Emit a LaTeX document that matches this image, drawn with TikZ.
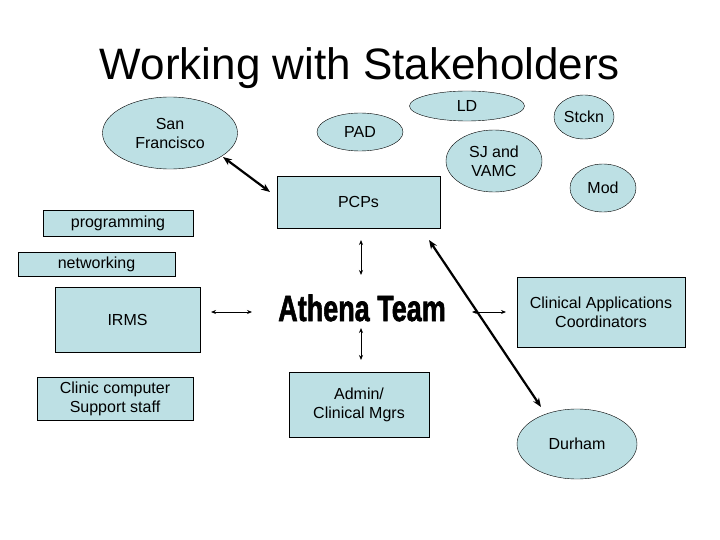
\documentclass[tikz,border=0pt]{standalone}
\usepackage{fontspec}
\setmainfont{Liberation Sans}
\usetikzlibrary{shapes.geometric,arrows.meta}
\definecolor{fillb}{HTML}{BDE0E4}
\begin{document}
\begin{tikzpicture}[x=1pt,y=-1pt,
  box/.style={draw,fill=fillb,align=center,font=\fontsize{16}{19}\selectfont,inner sep=0pt},
  oval/.style={draw,fill=fillb,ellipse,align=center,font=\fontsize{16}{19}\selectfont,inner sep=0pt},
  thin arr/.style={{Stealth[length=5pt,width=4pt]}-{Stealth[length=5pt,width=4pt]},line width=0.8pt},
  thick arr/.style={{Stealth[length=9pt,width=7pt]}-{Stealth[length=9pt,width=7pt]},line width=2.2pt}]
\useasboundingbox (0,0) rectangle (720,540);
\node (title) at (360,68) {\fontsize{44}{50}\selectfont Working with Stakeholders};
\node[oval,minimum width=135,minimum height=72] (sf) at (170,133) {San\\Francisco};
\node[oval,minimum width=86,minimum height=38] (pad) at (360,132) {PAD};
\node[oval,minimum width=115,minimum height=30] (ld) at (467,106) {LD};
\node[oval,minimum width=60,minimum height=44] (st) at (584,117) {Stckn};
\node[oval,minimum width=96,minimum height=62] (sj) at (494,161) {SJ and\\VAMC};
\node[oval,minimum width=66,minimum height=48] (mod) at (603,188) {Mod};
\node[box,minimum width=163,minimum height=52] (pcp) at (358.5,202) {PCPs};
\node[box,minimum width=150,minimum height=26] (prog) at (118,223.5) {programming};
\node[box,minimum width=157,minimum height=24] (net) at (96.5,264) {networking};
\node[box,minimum width=145,minimum height=65] (irms) at (127.5,319.5) {IRMS};
\node[box,minimum width=156,minimum height=43] (clin) at (115,398.5) {Clinic computer\\Support staff};
\node[box,minimum width=140,minimum height=65] (adm) at (359,404.5) {Admin/\\Clinical Mgrs};
\node[box,minimum width=168,minimum height=70] (cac) at (601,312) {Clinical Applications\\Coordinators};
\node[oval,minimum width=120,minimum height=70] (dur) at (577,444) {Durham};
\node[inner sep=0pt,yscale=1.35] (ath) at (362,308)
  {\fontsize{27}{30}\bfseries\addfontfeature{FakeBold=2}Athena Team};
\coordinate (a1) at (223,157); \coordinate (a2) at (270,192);
\coordinate (b1) at (361,240); \coordinate (b2) at (361,275);
\coordinate (c1) at (429,240); \coordinate (c2) at (541,407);
\coordinate (d1) at (211,312); \coordinate (d2) at (252,312);
\coordinate (e1) at (472,312); \coordinate (e2) at (506,312);
\coordinate (f1) at (361,328); \coordinate (f2) at (361,360);
\draw[thick arr] (a1) -- (a2);
\draw[thin arr] (b1) -- (b2);
\draw[thick arr] (c1) -- (c2);
\draw[thin arr] (d1) -- (d2);
\draw[thin arr] (e1) -- (e2);
\draw[thin arr] (f1) -- (f2);
\end{tikzpicture}
\end{document}
